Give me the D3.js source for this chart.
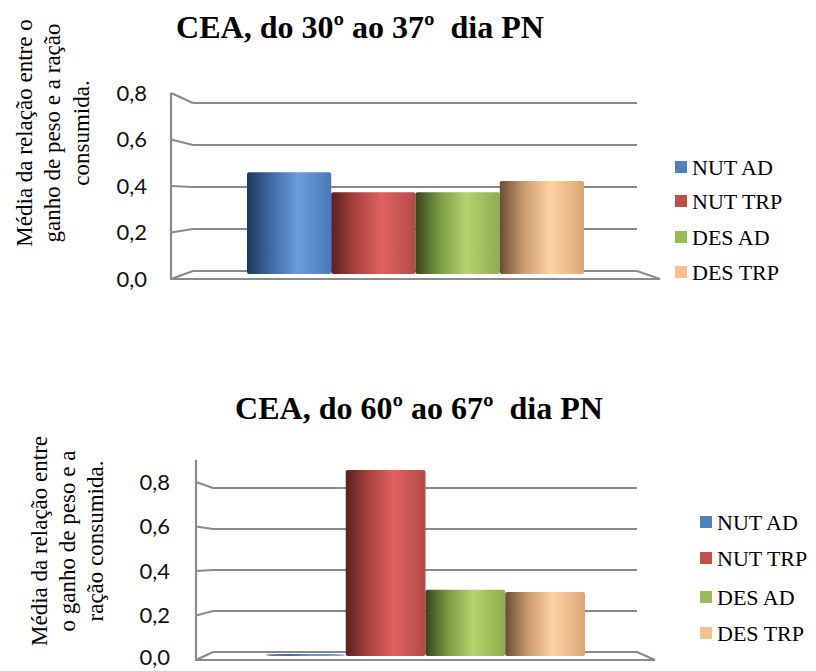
<!DOCTYPE html>
<html>
<head>
<meta charset="utf-8">
<script src="https://cdn.jsdelivr.net/npm/d3@7"></script>
<style>
  html, body { margin: 0; padding: 0; background: #fff; }
  svg { display: block; }
  .serif { font-family: "Liberation Serif", "Times New Roman", Tinos, "DejaVu Serif", serif; }
  .pre { white-space: pre; }
</style>
</head>
<body>
<svg id="chart" width="816" height="671"></svg>
<script>
// Treatment groups and the four colours used for them
const categories = ["NUT AD", "NUT TRP", "DES AD", "DES TRP"];
const seriesColors = ["#4f81bd", "#c0504d", "#9bbb59", "#f9c08f"];

// Mean ratio of weight gain to food consumed, per period
const valuesDay30to37 = [0.46, 0.37, 0.37, 0.42];
const valuesDay60to67 = [0.005, 0.87, 0.31, 0.30];

const tickValues = [0, 0.2, 0.4, 0.6, 0.8];
const tickLabels = ["0,0", "0,2", "0,4", "0,6", "0,8"];

const titles = ["CEA, do 30º ao 37º  dia PN", "CEA, do 60º ao 67º  dia PN"];
const yTitles = [
  ["Média da relação entre o", "ganho de peso e a ração", "consumida."],
  ["Média da relação entre", "o ganho de peso e a", "ração consumida."]
];

// Cylinder-style shading stops for each series (dark edge, highlight, mid)
const shades = [
  ["#1e3658", "#3f6aa3", "#6a9ce0", "#4a79b8"],
  ["#5a1f1f", "#a8413f", "#e0625e", "#b24a48"],
  ["#34461a", "#7a9a42", "#b3d46e", "#8eac4e"],
  ["#6a4c34", "#c99a70", "#ffd3a2", "#daa676"]
];

const svg = d3.select("#chart");
const defs = svg.append("defs");
shades.forEach((s, i) => {
  const g = defs.append("linearGradient")
    .attr("id", "shade" + i).attr("x1", "0").attr("x2", "1").attr("y1", "0").attr("y2", "0");
  g.append("stop").attr("offset", "0%").attr("stop-color", s[0]);
  g.append("stop").attr("offset", "28%").attr("stop-color", s[1]);
  g.append("stop").attr("offset", "60%").attr("stop-color", s[2]);
  g.append("stop").attr("offset", "100%").attr("stop-color", s[3]);
});

const gridColor = "#8a8a8a";

// Panel geometry: a perspective box with a front and back plane
const panels = [
  {
    values: valuesDay30to37, title: titles[0], yTitle: yTitles[0],
    titleX: 360, titleY: 38,
    yTitleX: [32, 60, 89], yTitleY: 133,
    frontX: 171, backX: 193, backRight: 637, frontRight: 660,
    front: [279, 93], back: [271, 103], bar: [274, 97], axisTop: 0.8,
    barRange: [247, 584], labelX: 147,
    legendSq: 675, legendText: 692, legendY: [167, 201, 237, 272]
  },
  {
    values: valuesDay60to67, title: titles[1], yTitle: yTitles[1],
    titleX: 419, titleY: 419,
    yTitleX: [47, 75, 103], yTitleY: 541,
    frontX: 196, backX: 213, backRight: 637, frontRight: 655,
    front: [660, 482], back: [652, 488], bar: [656, 485], axisTop: 0.9,
    barRange: [266, 585], labelX: 170,
    legendSq: 700, legendText: 717, legendY: [522, 558, 597, 633]
  }
];

panels.forEach(p => {
  const g = svg.append("g");
  const yFront = d3.scaleLinear().domain([0, 0.8]).range(p.front);
  const yBack = d3.scaleLinear().domain([0, 0.8]).range(p.back);
  const yBar = d3.scaleLinear().domain([0, 0.8]).range(p.bar);
  const x = d3.scaleBand().domain(categories).range(p.barRange).padding(0);

  // Title
  g.append("text")
    .attr("class", "serif pre")
    .attr("x", p.titleX).attr("y", p.titleY)
    .attr("text-anchor", "middle")
    .style("font-weight", "bold").style("font-size", "32px")
    .text(p.title);

  // Rotated axis title, three lines
  p.yTitle.forEach((line, i) => {
    g.append("text")
      .attr("class", "serif")
      .attr("transform", `translate(${p.yTitleX[i]},${p.yTitleY}) rotate(-90)`)
      .attr("text-anchor", "middle")
      .style("font-size", "23px")
      .text(line);
  });

  // Back-wall gridlines and side-wall connectors
  tickValues.forEach(v => {
    if (v > 0) {
      g.append("line")
        .attr("x1", p.backX).attr("x2", p.backRight)
        .attr("y1", yBack(v)).attr("y2", yBack(v))
        .attr("stroke", gridColor).attr("stroke-width", 2.2);
    }
    g.append("line")
      .attr("x1", p.frontX).attr("x2", p.backX)
      .attr("y1", yFront(v)).attr("y2", yBack(v))
      .attr("stroke", gridColor).attr("stroke-width", 2.2);
  });

  // Floor outline
  g.append("path")
    .attr("d", `M${p.backX},${yBack(0)} L${p.backRight},${yBack(0)} L${p.frontRight},${yFront(0)} L${p.frontX},${yFront(0)}`)
    .attr("fill", "none").attr("stroke", gridColor).attr("stroke-width", 2.2);

  // Vertical axis line on the front edge
  g.append("line")
    .attr("x1", p.frontX).attr("x2", p.frontX)
    .attr("y1", yFront(0) + 1).attr("y2", yFront(p.axisTop))
    .attr("stroke", gridColor).attr("stroke-width", 2.2);

  // Tick labels
  tickValues.forEach((v, i) => {
    g.append("text")
      .attr("x", p.labelX).attr("y", Math.min(yFront(v), 657))
      .attr("dy", "0.36em")
      .attr("text-anchor", "end")
      .style("font-family", "Lato, 'Open Sans', sans-serif")
      .style("font-size", "22px")
      .style("fill", "#111")
      .text(tickLabels[i]);
  });

  // Bars
  p.values.forEach((v, i) => {
    const top = yBar(v), base = yBar(0);
    const h = Math.max(2, base - top);
    g.append("rect")
      .attr("x", x(categories[i])).attr("width", x.bandwidth())
      .attr("y", base - h).attr("height", h)
      .attr("rx", h < 6 ? x.bandwidth() / 2 : 2)
      .attr("ry", h < 6 ? h / 2 : 2)
      .attr("fill", `url(#shade${i})`);
  });

  // Legend
  categories.forEach((c, i) => {
    g.append("rect")
      .attr("x", p.legendSq).attr("y", p.legendY[i] - 6)
      .attr("width", 12).attr("height", 12)
      .attr("fill", seriesColors[i]);
    g.append("text")
      .attr("class", "serif")
      .attr("x", p.legendText).attr("y", p.legendY[i])
      .attr("dy", "0.35em")
      .style("font-size", "22px")
      .text(c);
  });
});
</script>
</body>
</html>
